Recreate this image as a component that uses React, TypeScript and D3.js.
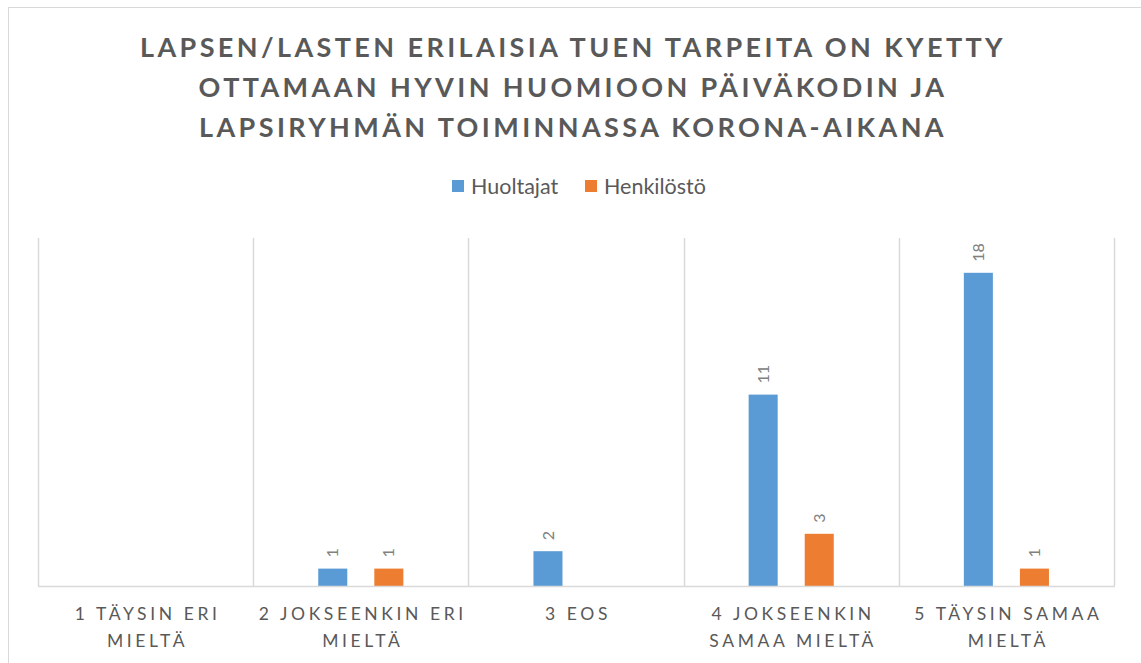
import React, { useEffect, useRef } from "react";
import * as d3 from "d3";

const titleLines = [
  "LAPSEN/LASTEN ERILAISIA TUEN TARPEITA ON KYETTY",
  "OTTAMAAN HYVIN HUOMIOON PÄIVÄKODIN JA",
  "LAPSIRYHMÄN TOIMINNASSA KORONA-AIKANA",
];
const categories = [
  "1 TÄYSIN ERI|MIELTÄ",
  "2 JOKSEENKIN ERI|MIELTÄ",
  "3 EOS",
  "4 JOKSEENKIN|SAMAA MIELTÄ",
  "5 TÄYSIN SAMAA|MIELTÄ",
];
const seriesNames = ["Huoltajat", "Henkilöstö"];
const huoltajat = [null, 1, 2, 11, 18];
const henkilosto = [null, 1, null, 3, 1];
const colors = ["#5B9BD5", "#ED7D31"];

const W = 1141;
const H = 663;
const FONT = "Lato, 'Open Sans', sans-serif";

export default function App() {
  const ref = useRef<SVGSVGElement>(null);

  useEffect(() => {
    const svg = d3.select(ref.current);
    svg.selectAll("*").remove();

    const plot = { left: 38, right: 1114, top: 238, bottom: 586 };

    // kehys
    svg
      .append("rect")
      .attr("x", 8.5)
      .attr("y", 7.5)
      .attr("width", 1140)
      .attr("height", 670)
      .attr("fill", "#fff")
      .attr("stroke", "#d9d9d9");

    // otsikko
    svg
      .append("g")
      .selectAll("text")
      .data(titleLines)
      .join("text")
      .attr("x", 573)
      .attr("y", (d, i) => 57 + i * 40)
      .attr("text-anchor", "middle")
      .attr("font-family", FONT)
      .attr("font-weight", "bold")
      .attr("font-size", 27)
      .attr("letter-spacing", 3.4)
      .attr("fill", "#595959")
      .text((d) => d);

    const x = d3
      .scaleBand()
      .domain(categories)
      .range([plot.left, plot.right])
      .paddingInner(0)
      .paddingOuter(0);

    const xInner = d3
      .scaleBand()
      .domain(seriesNames)
      .range([0, x.bandwidth()])
      .paddingInner(0.482)
      .paddingOuter(1.16);

    const y = d3.scaleLinear().domain([0, 20]).range([plot.bottom, plot.top]);

    // pystyviivat
    const gridX = categories.map((c) => x(c)!).concat([plot.right]);
    svg
      .append("g")
      .selectAll("line")
      .data(gridX)
      .join("line")
      .attr("x1", (d) => Math.round(d) + 0.5)
      .attr("x2", (d) => Math.round(d) + 0.5)
      .attr("y1", plot.top)
      .attr("y2", plot.bottom)
      .attr("stroke", "#d9d9d9")
      .attr("stroke-width", 1.5);

    // palkit
    const series = [huoltajat, henkilosto];
    series.forEach((vals, si) => {
      const g = svg.append("g");
      const items = categories
        .map((c, i) => ({ c, v: vals[i] }))
        .filter((d) => d.v != null) as { c: string; v: number }[];
      g.selectAll("rect")
        .data(items)
        .join("rect")
        .attr("x", (d) => x(d.c)! + xInner(seriesNames[si])!)
        .attr("y", (d) => y(d.v))
        .attr("width", xInner.bandwidth())
        .attr("height", (d) => y(0) - y(d.v))
        .attr("fill", colors[si]);
      g.selectAll("text")
        .data(items)
        .join("text")
        .attr("transform", (d) => {
          const cx = x(d.c)! + xInner(seriesNames[si])! + xInner.bandwidth() / 2;
          return `translate(${cx},${y(d.v) - 11}) rotate(-90)`;
        })
        .attr("dy", "0.35em")
        .attr("text-anchor", "start")
        .attr("font-family", FONT)
        .attr("font-size", 16)
        .attr("fill", "#808080")
        .text((d) => d.v);
    });

    // x-akseli
    svg
      .append("line")
      .attr("x1", plot.left)
      .attr("x2", plot.right + 1)
      .attr("y1", plot.bottom + 0.5)
      .attr("y2", plot.bottom + 0.5)
      .attr("stroke", "#d9d9d9")
      .attr("stroke-width", 1.5);

    const labels = svg
      .append("g")
      .selectAll("text")
      .data(categories)
      .join("text")
      .attr("text-anchor", "middle")
      .attr("font-family", FONT)
      .attr("font-size", 17.5)
      .attr("letter-spacing", 3.6)
      .attr("fill", "#595959");
    labels
      .selectAll("tspan")
      .data((d) => d.split("|").map((t, i) => ({ t, i, c: d })))
      .join("tspan")
      .attr("x", (d) => x(d.c)! + x.bandwidth() / 2 + 2)
      .attr("y", (d) => 620 + d.i * 27)
      .text((d) => d.t);

    // selite
    const legend = svg.append("g").attr("transform", "translate(452,180)");
    const lx = [0, 133];
    seriesNames.forEach((n, i) => {
      legend
        .append("rect")
        .attr("x", lx[i])
        .attr("y", 0)
        .attr("width", 12)
        .attr("height", 12)
        .attr("fill", colors[i]);
      legend
        .append("text")
        .attr("x", lx[i] + 19)
        .attr("y", 14)
        .attr("font-family", FONT)
        .attr("font-size", 21.5)
        .attr("fill", "#595959")
        .text(n);
    });
  }, []);

  return (
    <svg
      ref={ref}
      width={W}
      height={H}
      style={{ position: "absolute", left: 0, top: 0, display: "block" }}
    />
  );
}
